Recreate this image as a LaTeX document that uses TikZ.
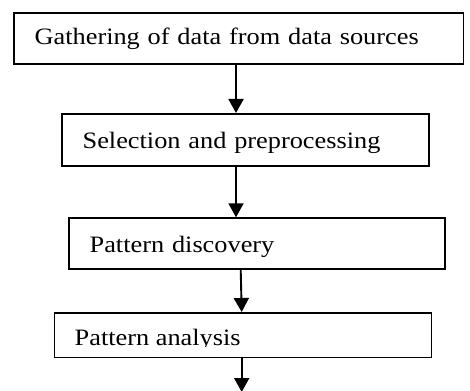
\documentclass[tikz,border=0pt]{standalone}
\usepackage{fontspec}
\setmainfont{Liberation Serif}[FakeStretch=1.12]
\usetikzlibrary{arrows.meta}
\begin{document}
\begin{tikzpicture}[x=1pt,y=-1pt,
  stepbox/.style={draw, line width=1.7pt, inner ysep=0pt, inner xsep=20.5pt, anchor=north west, align=left, font=\fontsize{23.5}{27}\selectfont},
  labeltext/.style={inner sep=0pt, anchor=base west, font=\fontsize{23.5}{27}\selectfont},
  flow/.style={line width=1.9pt, -{Triangle[width=15pt,length=14pt]}}]
\useasboundingbox (0,0) rectangle (470,390);
\node[stepbox, text width=408.4pt, text height=31.7pt, text depth=19.3pt] (b1) at (13.3,12.3) {Gathering of data from data sources};
\node[stepbox, text width=326pt, text height=35pt, text depth=17pt] (b2) at (61.3,113) {Selection and preprocessing};
\node[stepbox, text width=335pt, text height=34.7pt, text depth=16pt] (b3) at (68.3,217.3) {Pattern discovery};
\node[draw, line width=1.7pt, inner sep=0pt, anchor=north west, minimum width=377pt, minimum height=44.7pt] (b4) at (53.5,312) {};
\begin{scope}
\clip (53.5,312) rectangle (430.5,346.5);
\node[labeltext] (t4) at (74.5,345) {Pattern analysis};
\end{scope}
\coordinate (end) at (241.7,392);
\draw[flow] ([xshift=222.7pt]b1.south west) -- ([xshift=174.7pt]b2.north west);
\draw[flow] ([xshift=174.7pt]b2.south west) -- ([xshift=167.7pt]b3.north west);
\draw[flow] ([xshift=172.4pt]b3.south west) -- ([xshift=188.2pt]b4.north west);
\draw[flow] ([xshift=188.2pt]b4.south west) -- (end);
\end{tikzpicture}
\end{document}
